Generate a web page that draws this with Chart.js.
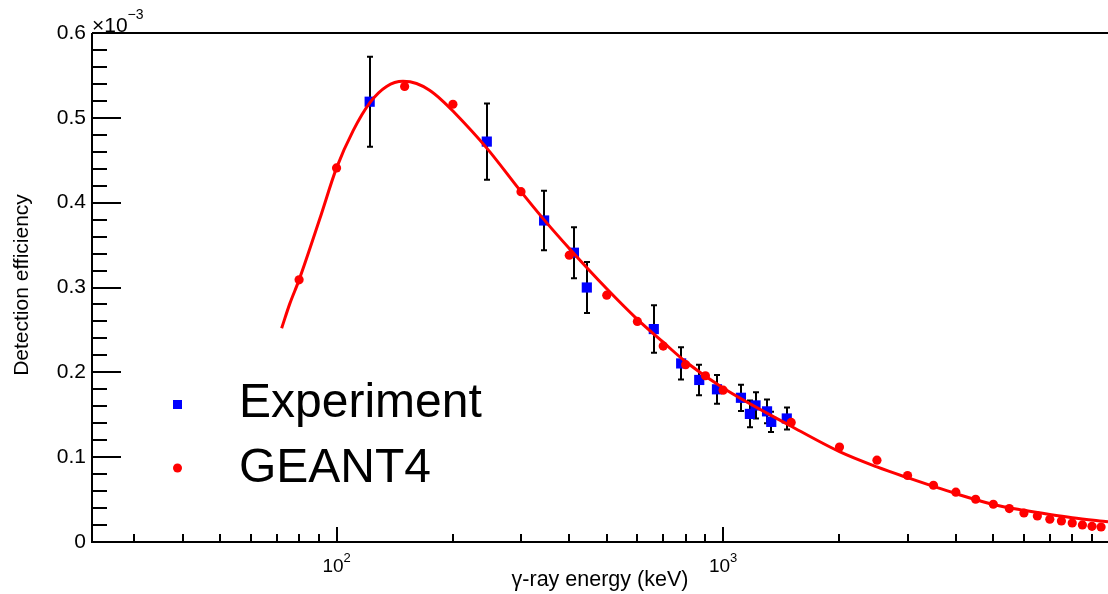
<!DOCTYPE html>
<html>
<head>
<meta charset="utf-8">
<script src="https://cdn.jsdelivr.net/npm/chart.js@4.4.1/dist/chart.umd.min.js"></script>
<style>
  html, body { margin: 0; padding: 0; background: #fff; }
  #wrap { width: 1108px; height: 594px; }
</style>
</head>
<body>
<div id="wrap"><canvas id="chart" width="1108" height="594"></canvas></div>
<script>
// Detection efficiency vs gamma-ray energy — efficiency values are in units of 1e-3

const FONT = '"Liberation Sans", Arial, Helvetica, sans-serif';

// Experiment (blue squares with error bars)
const expEnergy = [121.8, 244.7, 344.3, 411.1, 444.0, 661.7, 778.9, 867.4, 964.1, 1112, 1173, 1213, 1299, 1332, 1461];
const expEff    = [0.519, 0.472, 0.379, 0.341, 0.300, 0.251, 0.2105, 0.191, 0.180, 0.170, 0.151, 0.161, 0.154, 0.1416, 0.1456];
const expErr    = [0.053, 0.045, 0.035, 0.030, 0.030, 0.028, 0.019, 0.018, 0.017, 0.0155, 0.0157, 0.0155, 0.014, 0.012, 0.013];

// GEANT4 simulation (red dots)
const g4Energy = [80, 100, 150, 200, 300, 400, 500, 600, 700, 800, 900, 1000, 1500, 2000, 2500, 3000,
                  3500, 4000, 4500, 5000, 5500, 6000, 6500, 7000, 7500, 8000, 8500, 9000, 9500];
const g4Eff    = [0.309, 0.441, 0.537, 0.516, 0.413, 0.338, 0.291, 0.260, 0.231, 0.209, 0.196, 0.179, 0.141, 0.112, 0.0964, 0.0784,
                  0.0669, 0.0587, 0.0504, 0.0445, 0.0394, 0.0342, 0.0307, 0.0268, 0.0248, 0.0224, 0.0201, 0.0185, 0.0177];

// fitted curve
const fitEnergy = [72.1, 75.7, 80, 90.5, 100, 110.4, 122, 134.7, 148.6, 161, 174, 187, 200, 245, 300, 344, 400, 500, 600, 700, 800, 1000,
                   1500, 2000, 2500, 3000, 4000, 5000, 6000, 7000, 8000, 9900];
const fitEff    = [0.252, 0.281, 0.309, 0.381, 0.441, 0.485, 0.518, 0.537, 0.543, 0.5405, 0.5325, 0.521, 0.508, 0.464, 0.413, 0.380, 0.346, 0.2985, 0.2625, 0.2355, 0.2125, 0.1815,
                   0.1365, 0.1065, 0.0885, 0.0758, 0.0570, 0.0443, 0.0374, 0.0324, 0.0286, 0.0238];

// axes
const xMin = 23.3, xMax = 9900;
const yMin = 0, yMax = 0.6;
const xMajorTicks = [100, 1000];
const xMajorLabels = ['2', '3'];   // exponents of 10
const xMinorTicks = [30, 40, 50, 60, 70, 80, 90, 200, 300, 400, 500, 600, 700, 800, 900,
                     2000, 3000, 4000, 5000, 6000, 7000, 8000, 9000];
const yMajorTicks = [0, 0.1, 0.2, 0.3, 0.4, 0.5, 0.6];
const yMajorLabels = ['0', '0.1', '0.2', '0.3', '0.4', '0.5', '0.6'];
const yMinorTicks = [0.02, 0.04, 0.06, 0.08, 0.12, 0.14, 0.16, 0.18, 0.22, 0.24, 0.26, 0.28,
                     0.32, 0.34, 0.36, 0.38, 0.42, 0.44, 0.46, 0.48, 0.52, 0.54, 0.56, 0.58];

const legendItems = ['Experiment', 'GEANT4'];

function pairs(xs, ys) {
  return xs.map((x, i) => ({ x, y: ys[i] }));
}

// error bars under the markers
const errorBars = {
  id: 'errorBars',
  beforeDatasetsDraw(chart) {
    const { ctx, scales: { x, y } } = chart;
    ctx.save();
    ctx.strokeStyle = '#000';
    ctx.lineWidth = 2;
    expEnergy.forEach((e, i) => {
      const px = Math.round(x.getPixelForValue(e));
      const top = y.getPixelForValue(expEff[i] + expErr[i]);
      const bot = y.getPixelForValue(expEff[i] - expErr[i]);
      ctx.beginPath();
      ctx.moveTo(px, top); ctx.lineTo(px, bot);
      ctx.moveTo(px - 3, top); ctx.lineTo(px + 3, top);
      ctx.moveTo(px - 3, bot); ctx.lineTo(px + 3, bot);
      ctx.stroke();
    });
    ctx.restore();
  },
};

// ROOT-like frame, inward ticks, labels and legend
const frame = {
  id: 'frame',
  afterDraw(chart) {
    const { ctx, chartArea: a, scales: { x, y } } = chart;
    ctx.save();
    ctx.strokeStyle = '#000';
    ctx.lineWidth = 2;
    ctx.beginPath();
    ctx.moveTo(a.left, a.top); ctx.lineTo(a.right, a.top);
    ctx.moveTo(a.left, a.top); ctx.lineTo(a.left, a.bottom); ctx.lineTo(a.right, a.bottom);
    // y ticks
    yMajorTicks.forEach((v) => {
      const py = Math.round(y.getPixelForValue(v));
      ctx.moveTo(a.left, py); ctx.lineTo(a.left + 29, py);
    });
    yMinorTicks.forEach((v) => {
      const py = Math.round(y.getPixelForValue(v));
      ctx.moveTo(a.left, py); ctx.lineTo(a.left + 15, py);
    });
    // x ticks
    xMajorTicks.forEach((v) => {
      const px = Math.round(x.getPixelForValue(v));
      ctx.moveTo(px, a.bottom); ctx.lineTo(px, a.bottom - 15);
    });
    xMinorTicks.forEach((v) => {
      const px = Math.round(x.getPixelForValue(v));
      ctx.moveTo(px, a.bottom); ctx.lineTo(px, a.bottom - 8);
    });
    ctx.stroke();

    ctx.fillStyle = '#000';
    // y labels
    ctx.font = `21px ${FONT}`;
    ctx.textAlign = 'right';
    ctx.textBaseline = 'middle';
    yMajorTicks.forEach((v, i) => {
      ctx.fillText(yMajorLabels[i], 86, y.getPixelForValue(v));
    });
    // x10^-3 multiplier
    ctx.textAlign = 'left';
    ctx.textBaseline = 'alphabetic';
    ctx.font = `21px ${FONT}`;
    ctx.fillText('\u00d710', 92, 32);
    const mw = ctx.measureText('\u00d710').width;
    ctx.font = `14px ${FONT}`;
    ctx.fillText('\u22123', 92 + mw, 19);

    // x labels 10^n
    xMajorTicks.forEach((v, i) => {
      const px = x.getPixelForValue(v);
      ctx.font = `19px ${FONT}`;
      const w1 = ctx.measureText('10').width;
      ctx.font = `13px ${FONT}`;
      const w2 = ctx.measureText(xMajorLabels[i]).width;
      const x0 = px - (w1 + w2) / 2;
      ctx.font = `19px ${FONT}`;
      ctx.fillText('10', x0, 572);
      ctx.font = `13px ${FONT}`;
      ctx.fillText(xMajorLabels[i], x0 + w1, 562);
    });

    // axis titles
    ctx.font = `21.5px ${FONT}`;
    ctx.textAlign = 'center';
    ctx.fillText('\u03b3-ray energy (keV)', (a.left + a.right) / 2, 586);
    ctx.save();
    ctx.translate(28, 285);
    ctx.rotate(-Math.PI / 2);
    ctx.font = `21px ${FONT}`;
    ctx.fillText('Detection efficiency', 0, 0);
    ctx.restore();

    // legend
    ctx.fillStyle = '#0000ff';
    ctx.fillRect(173, 400, 9, 9);
    ctx.fillStyle = '#ff0000';
    ctx.beginPath();
    ctx.arc(177.5, 468, 4.5, 0, Math.PI * 2);
    ctx.fill();
    ctx.fillStyle = '#000';
    ctx.font = `48px ${FONT}`;
    ctx.textAlign = 'left';
    ctx.fillText(legendItems[0], 239, 417);
    ctx.fillText(legendItems[1], 239, 482);
    ctx.restore();
  },
};

new Chart(document.getElementById('chart'), {
  data: {
    datasets: [
      {
        type: 'line',
        label: 'fit',
        data: pairs(fitEnergy, fitEff),
        borderColor: '#ff0000',
        borderWidth: 3,
        pointRadius: 0,
        fill: false,
        cubicInterpolationMode: 'monotone',
      },
      {
        type: 'scatter',
        label: legendItems[1],
        data: pairs(g4Energy, g4Eff),
        backgroundColor: '#ff0000',
        borderWidth: 0,
        pointRadius: 4.6,
        pointStyle: 'circle',
      },
      {
        type: 'scatter',
        label: legendItems[0],
        data: pairs(expEnergy, expEff),
        backgroundColor: '#0000ff',
        borderWidth: 0,
        pointRadius: 7.2,
        pointStyle: 'rect',
      },
    ],
  },
  options: {
    responsive: false,
    animation: false,
    devicePixelRatio: 1,
    layout: { autoPadding: false, padding: { top: 33, left: 0, right: 0, bottom: 0 } },
    plugins: { legend: { display: false }, tooltip: { enabled: false } },
    scales: {
      x: {
        type: 'logarithmic',
        min: xMin,
        max: xMax,
        ticks: { display: false },
        grid: { display: false },
        border: { display: false },
        afterFit: (s) => { s.height = 52; },
      },
      y: {
        type: 'linear',
        min: yMin,
        max: yMax,
        ticks: { display: false },
        grid: { display: false },
        border: { display: false },
        afterFit: (s) => { s.width = 92; },
      },
    },
  },
  plugins: [errorBars, frame],
});
</script>
</body>
</html>
